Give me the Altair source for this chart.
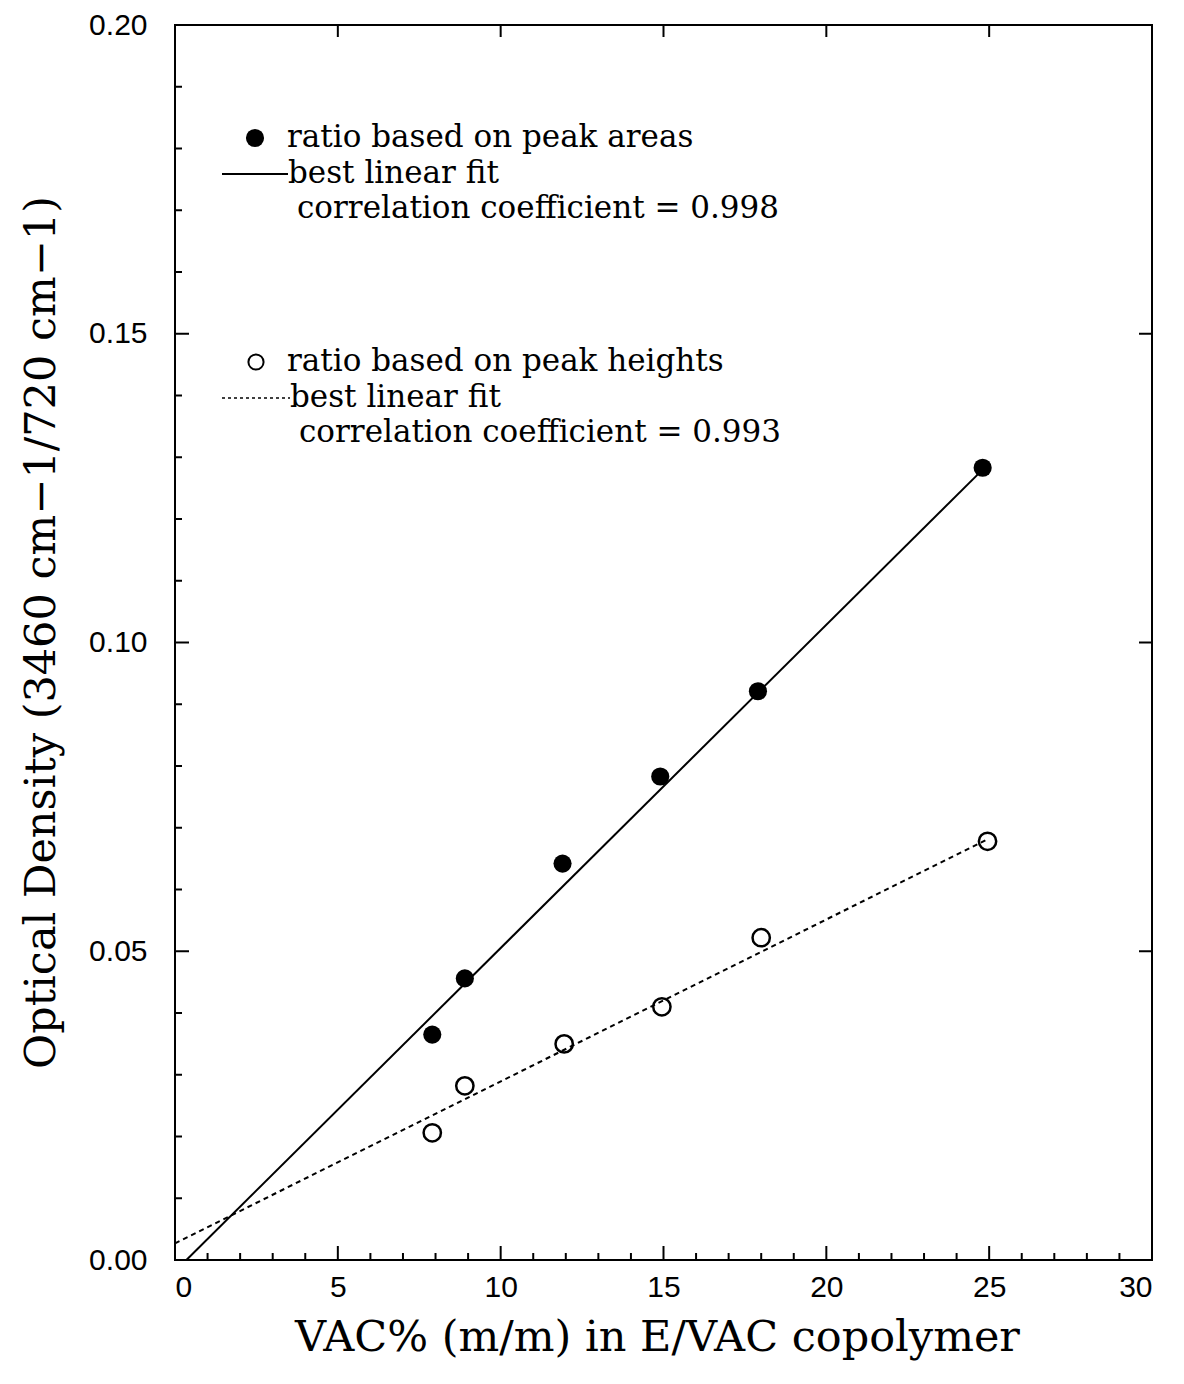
import altair as alt
import pandas as pd

# ---- data ----
vac_area = [7.9, 8.9, 11.9, 14.9, 17.9, 24.8]
od_area = [0.0365, 0.0456, 0.0642, 0.0783, 0.0921, 0.1283]
vac_height = [7.9, 8.9, 11.95, 14.95, 18.0, 24.95]
od_height = [0.0206, 0.0282, 0.0350, 0.0410, 0.0522, 0.0678]

fit_area_x = [0.35, 24.8]
fit_area_y = [0.0, 0.128]
fit_height_x = [0.0, 24.9]
fit_height_y = [0.0027, 0.068]

x_labels = [0, 5, 10, 15, 20, 25, 30]
x_minor = [v for v in range(1, 30) if v % 5 != 0]
y_labels = [0.0, 0.05, 0.10, 0.15, 0.20]
y_minor = [round(0.01 * i, 2) for i in range(1, 20) if i % 5 != 0]

legend_text = [
    "ratio based on peak areas",
    "best linear fit",
    "correlation coefficient = 0.998",
    "ratio based on peak heights",
    "best linear fit",
    "correlation coefficient = 0.993",
]

# ---- layout ----
W, H = 977, 1235
SERIF = "DejaVu Serif"
SANS = "Liberation Sans"

xs = alt.Scale(domain=[0, 30], nice=False, zero=False)
ys = alt.Scale(domain=[0, 0.2], nice=False, zero=False)

df_area = pd.DataFrame({"x": vac_area, "y": od_area})
df_height = pd.DataFrame({"x": vac_height, "y": od_height})
df_fit_a = pd.DataFrame({"x": fit_area_x, "y": fit_area_y})
df_fit_h = pd.DataFrame({"x": fit_height_x, "y": fit_height_y})

X_TITLE = "VAC% (m/m) in E/VAC copolymer"
Y_TITLE = "Optical Density (3460 cm\u22121/720 cm\u22121)"

x_axis = alt.Axis(
    values=x_labels, format="d", ticks=False, grid=False, domain=False,
    labelFont=SANS, labelFontSize=30, labelColor="black", labelPadding=12,
    title=X_TITLE, titleFont=SERIF, titleFontSize=43,
    titleFontWeight="normal", titleColor="black", titleBaseline="alphabetic",
    titleX=482, titleY=90, titleAlign="center",
)
y_axis = alt.Axis(
    values=y_labels, format=".2f", ticks=False, grid=False, domain=False,
    labelFont=SANS, labelFontSize=30, labelColor="black", labelPadding=28,
    title=Y_TITLE, titleFont=SERIF,
    titleFontSize=43, titleFontWeight="normal", titleColor="black",
    titleBaseline="alphabetic", titleX=-121, titleY=607, titleAlign="center",
    titleAngle=270,
)


def X(field):
    return alt.X(f"{field}:Q", scale=xs, axis=x_axis, title=X_TITLE)


def Y(field):
    return alt.Y(f"{field}:Q", scale=ys, axis=y_axis, title=Y_TITLE)


pts_area = alt.Chart(df_area).mark_circle(size=330, color="black", opacity=1).encode(
    x=X("x"), y=Y("y"),
)
pts_height = alt.Chart(df_height).mark_point(
    shape="circle", filled=False, size=300, color="black", strokeWidth=2.5, opacity=1
).encode(x=X("x"), y=Y("y"))
line_a = alt.Chart(df_fit_a).mark_line(color="black", strokeWidth=2).encode(
    x=X("x"), y=Y("y"),
)
line_h = alt.Chart(df_fit_h).mark_line(color="black", strokeWidth=2, strokeDash=[5, 4]).encode(
    x=X("x"), y=Y("y"),
)


# ---- inward ticks ----
def yticks(vals, x0, x1):
    return alt.Chart(pd.DataFrame({"y": vals})).mark_rule(color="black", strokeWidth=2).encode(
        y=Y("y"), x=alt.value(x0), x2=alt.value(x1)
    )


def xticks(vals, y0, y1):
    return alt.Chart(pd.DataFrame({"x": vals})).mark_rule(color="black", strokeWidth=2).encode(
        x=X("x"), y=alt.value(y0), y2=alt.value(y1)
    )


ticks = [
    yticks(y_labels[1:-1], 0, 14),
    yticks(y_minor, 0, 7),
    yticks(y_labels[1:-1], W - 13, W),
    xticks(x_labels[1:-1], H - 14, H),
    xticks(x_minor, H - 7, H),
    xticks(x_labels[1:-1], 0, 12),
]


# ---- legend (annotation) ----
def txt(s, x, y):
    return alt.Chart(pd.DataFrame({"t": [s]})).mark_text(
        font=SERIF, fontSize=31, color="black", align="left", baseline="middle"
    ).encode(text="t:N", x=alt.value(x), y=alt.value(y))


legend = [
    alt.Chart(pd.DataFrame({"a": [0]})).mark_circle(size=330, color="black", opacity=1).encode(
        x=alt.value(80), y=alt.value(113)),
    txt(legend_text[0], 112, 113),
    alt.Chart(pd.DataFrame({"a": [0]})).mark_rule(color="black", strokeWidth=2).encode(
        x=alt.value(47), x2=alt.value(113), y=alt.value(149)),
    txt(legend_text[1], 113, 149),
    txt(legend_text[2], 122, 184),
    alt.Chart(pd.DataFrame({"a": [0]})).mark_point(
        shape="circle", filled=False, size=230, color="black", strokeWidth=2, opacity=1).encode(
        x=alt.value(81), y=alt.value(337)),
    txt(legend_text[3], 112, 337),
    alt.Chart(pd.DataFrame({"a": [0]})).mark_rule(color="black", strokeWidth=1.5, strokeDash=[3, 3]).encode(
        x=alt.value(47), x2=alt.value(115), y=alt.value(373)),
    txt(legend_text[4], 115, 373),
    txt(legend_text[5], 124, 408),
]

chart = alt.layer(pts_area, pts_height, line_a, line_h, *ticks, *legend).properties(
    width=W, height=H,
    autosize=alt.AutoSizeParams(type="none"),
    padding={"left": 175, "top": 25, "right": 30, "bottom": 120},
    background="white",
).configure_view(stroke="black", strokeWidth=2)

chart.save("out.html", embed_options={"renderer": "svg", "actions": False})
